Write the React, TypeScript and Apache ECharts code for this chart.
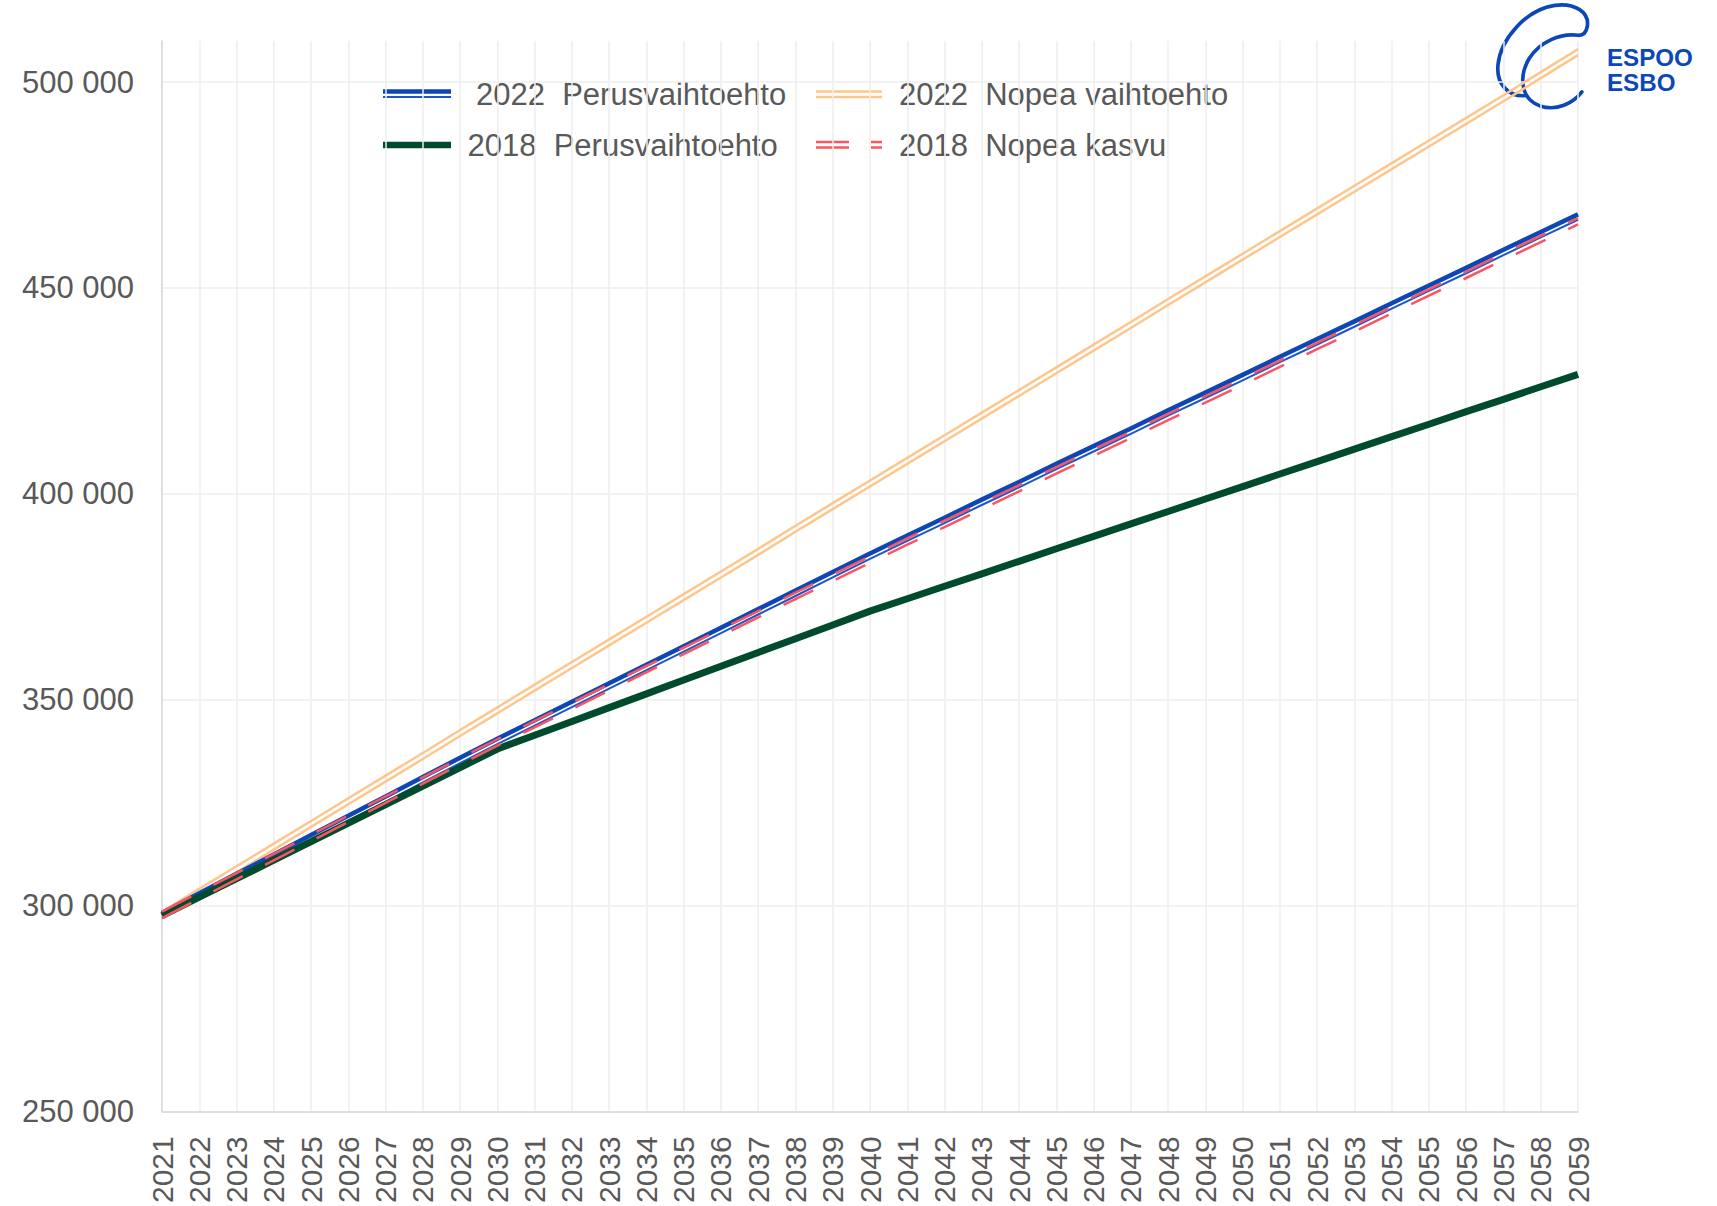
import React, { useEffect, useRef } from "react";
import * as echarts from "echarts";

const years = [
  "2021","2022","2023","2024","2025","2026","2027","2028","2029","2030",
  "2031","2032","2033","2034","2035","2036","2037","2038","2039","2040",
  "2041","2042","2043","2044","2045","2046","2047","2048","2049","2050",
  "2051","2052","2053","2054","2055","2056","2057","2058","2059",
];

// 2022 Perusvaihtoehto
const perus2022 = [
  297700, 302500, 307200, 311900, 316600, 321300, 326000, 330700, 335400, 340000,
  344500, 349000, 353500, 358000, 362500, 367000, 371500, 376000, 380500, 385000,
  389400, 393700, 398100, 402400, 406800, 411100, 415400, 419800, 424100, 428400,
  432800, 437100, 441400, 445800, 450100, 454400, 458800, 463100, 467400,
];

// 2022 Nopea vaihtoehto
const nopea2022 = [
  297700, 303300, 308800, 314300, 319800, 325300, 330800, 336300, 341900, 347400,
  352900, 358400, 363900, 369400, 374900, 380400, 385900, 391500, 397000, 402500,
  408000, 413500, 419000, 424500, 430000, 435500, 441000, 446600, 452100, 457600,
  463100, 468600, 474100, 479600, 485100, 490600, 496100, 501700, 507300,
];

// 2018 Perusvaihtoehto
const perus2018 = [
  297500, 302000, 306500, 311000, 315500, 320000, 324500, 329000, 333500, 338000,
  341350, 344700, 348050, 351400, 354750, 358100, 361450, 364800, 368150, 371500,
  374500, 377550, 380550, 383600, 386650, 389650, 392700, 395700, 398750, 401750,
  404800, 407800, 410850, 413900, 416900, 419950, 422950, 426000, 429000,
];

// 2018 Nopea kasvu
const nopea2018 = [
  297700, 302450, 307100, 311750, 316400, 321050, 325700, 330350, 335000, 339600,
  344050, 348500, 352950, 357400, 361850, 366300, 370750, 375200, 379600, 384000,
  388400, 392700, 397000, 401350, 405700, 410000, 414300, 418650, 422950, 427250,
  431600, 435900, 440200, 444600, 448900, 453200, 457600, 461900, 466200,
];

const yTicks = [250000, 300000, 350000, 400000, 450000, 500000];
const legendLabels = [
  "2022  Perusvaihtoehto",
  "2022  Nopea vaihtoehto",
  "2018  Perusvaihtoehto",
  "2018  Nopea kasvu",
];

const W = 1717;
const H = 1206;
const GRID = { left: 162, right: 139, top: 41, bottom: 92 };
const Y_MIN = 250000;
const Y_MAX = 510000;
const VPP = (Y_MAX - Y_MIN) / (H - GRID.top - GRID.bottom); // value per pixel

const BLUE = "#0e47b5";
const BLUE_THIN = "#1d57c6";
const ORANGE = "#ffc68c";
const GREEN = "#004b2d";
const RED = "#fb5560";
const TEXT = "#595959";
const LOGO_BLUE = "#0c47b8";
const FONT = "'Liberation Sans', Arial, sans-serif";

const LOGO_D =
  "M 108 287 C 58 292 18 255 24 195 C 32 115 110 28 195 16 C 252 8 300 35 292 80 " +
  "C 289 98 280 106 266 106 C 212 98 150 125 118 175 C 88 225 88 295 150 318 " +
  "C 200 335 250 310 276 276";

let registered = false;

const off = (arr: number[], px: number) => arr.map((v) => v + px * VPP);

export default function App() {
  const ref = useRef<HTMLDivElement>(null);

  useEffect(() => {
    document.body.style.margin = "0";
    if (!registered) {
      echarts.graphic.registerShape("logo", echarts.graphic.extendPath(LOGO_D, {}));
      registered = true;
    }
    const chart = echarts.init(ref.current!, null, { renderer: "svg" });

    const lineSeries = (
      name: string,
      data: number[],
      color: string,
      width: number,
      z: number,
      dash?: number[]
    ) => ({
      name,
      type: "line",
      data,
      symbol: "none",
      silent: true,
      z,
      lineStyle: {
        color,
        width,
        type: dash ? dash : "solid",
        cap: "butt",
        join: "round",
      },
    });

    const RED_DASH = [33, 25];

    const fmt = (v: number) =>
      v === Y_MAX ? "" : String(v).replace(/\B(?=(\d{3})+(?!\d))/g, " ");

    const lx1 = 383, lx2 = 451, rx1 = 816, rx2 = 882;
    const r1 = 94, r2 = 145;
    const legendFont = `31px ${FONT}`;

    const legendGraphics: any[] = [
      // blue double
      { type: "line", shape: { x1: lx1, y1: r1 - 2.5, x2: lx2, y2: r1 - 2.5 }, style: { stroke: BLUE, lineWidth: 4.5 } },
      { type: "line", shape: { x1: lx1, y1: r1 + 3, x2: lx2, y2: r1 + 3 }, style: { stroke: BLUE_THIN, lineWidth: 2 } },
      { type: "text", x: 476, y: r1, style: { text: legendLabels[0], fill: TEXT, font: legendFont, textAlign: "left", textVerticalAlign: "middle" } },
      // orange double
      { type: "line", shape: { x1: rx1, y1: r1 - 2.5, x2: rx2, y2: r1 - 2.5 }, style: { stroke: ORANGE, lineWidth: 2.5 } },
      { type: "line", shape: { x1: rx1, y1: r1 + 3, x2: rx2, y2: r1 + 3 }, style: { stroke: ORANGE, lineWidth: 2.5 } },
      { type: "text", x: 899, y: r1, style: { text: legendLabels[1], fill: TEXT, font: legendFont, textAlign: "left", textVerticalAlign: "middle" } },
      // green
      { type: "line", shape: { x1: lx1, y1: r2, x2: lx2, y2: r2 }, style: { stroke: GREEN, lineWidth: 6.5 } },
      { type: "text", x: 467.5, y: r2, style: { text: legendLabels[2], fill: TEXT, font: legendFont, textAlign: "left", textVerticalAlign: "middle" } },
      // red double dashed
      { type: "line", shape: { x1: rx1, y1: r2 - 3, x2: rx2, y2: r2 - 3 }, style: { stroke: RED, lineWidth: 2.5, lineDash: [33, 22] } },
      { type: "line", shape: { x1: rx1, y1: r2 + 2.5, x2: rx2, y2: r2 + 2.5 }, style: { stroke: RED, lineWidth: 2.5, lineDash: [33, 22] } },
      { type: "text", x: 899, y: r2, style: { text: legendLabels[3], fill: TEXT, font: legendFont, textAlign: "left", textVerticalAlign: "middle" } },
    ];

    const logoGraphics: any[] = [
      {
        type: "logo",
        x: 1490,
        y: 0,
        scaleX: 1 / 3,
        scaleY: 1 / 3,
        style: { fill: "none", stroke: LOGO_BLUE, lineWidth: 11, lineCap: "round" },
      },
      { type: "text", x: 1607, y: 58, scaleX: 1.05, style: { text: "ESPOO", fill: LOGO_BLUE, font: `bold 23px ${FONT}`, textAlign: "left", textVerticalAlign: "middle" } },
      { type: "text", x: 1607, y: 83, scaleX: 1.05, style: { text: "ESBO", fill: LOGO_BLUE, font: `bold 23px ${FONT}`, textAlign: "left", textVerticalAlign: "middle" } },
    ];

    chart.setOption({
      animation: false,
      grid: { ...GRID, containLabel: false },
      xAxis: {
        type: "category",
        data: years,
        boundaryGap: false,
        axisLine: { show: true, lineStyle: { color: "#d9d9d9", width: 1.5 } },
        axisTick: { show: false },
        splitLine: { show: true, interval: 0, lineStyle: { color: "#eeeeee", width: 1.5 } },
        axisLabel: {
          interval: 0,
          rotate: 90,
          margin: 25,
          color: TEXT,
          fontSize: 30,
          fontFamily: FONT,
        },
      },
      yAxis: {
        type: "value",
        min: Y_MIN,
        max: Y_MAX,
        interval: 50000,
        axisLine: { show: true, lineStyle: { color: "#d9d9d9", width: 1.5 } },
        axisTick: { show: false },
        splitLine: {
          show: true,
          lineStyle: {
            color: ["#eeeeee", "#eeeeee", "#eeeeee", "#eeeeee", "#eeeeee", "#eeeeee", "rgba(0,0,0,0)"],
            width: 1.5,
          },
        },
        axisLabel: {
          margin: 28,
          color: TEXT,
          fontSize: 31,
          fontFamily: FONT,
          formatter: fmt,
          customValues: yTicks,
        },
      },
      graphic: [...logoGraphics, ...legendGraphics],
      series: [
        lineSeries(legendLabels[1] + " a", off(nopea2022, 3), ORANGE, 2.5, 2),
        lineSeries(legendLabels[1] + " b", off(nopea2022, -3), ORANGE, 2.5, 2),
        lineSeries(legendLabels[0] + " a", off(perus2022, 2), BLUE, 4.5, 3),
        lineSeries(legendLabels[0] + " b", off(perus2022, -3.4), BLUE_THIN, 2, 3),
        lineSeries(legendLabels[2], perus2018, GREEN, 7, 4),
        lineSeries(legendLabels[3] + " a", off(nopea2018, 3.2), RED, 2.5, 5, RED_DASH),
        lineSeries(legendLabels[3] + " b", off(nopea2018, -3.2), RED, 2.5, 5, RED_DASH),
      ],
    });

    return () => chart.dispose();
  }, []);

  return <div ref={ref} style={{ width: W, height: H }} />;
}
